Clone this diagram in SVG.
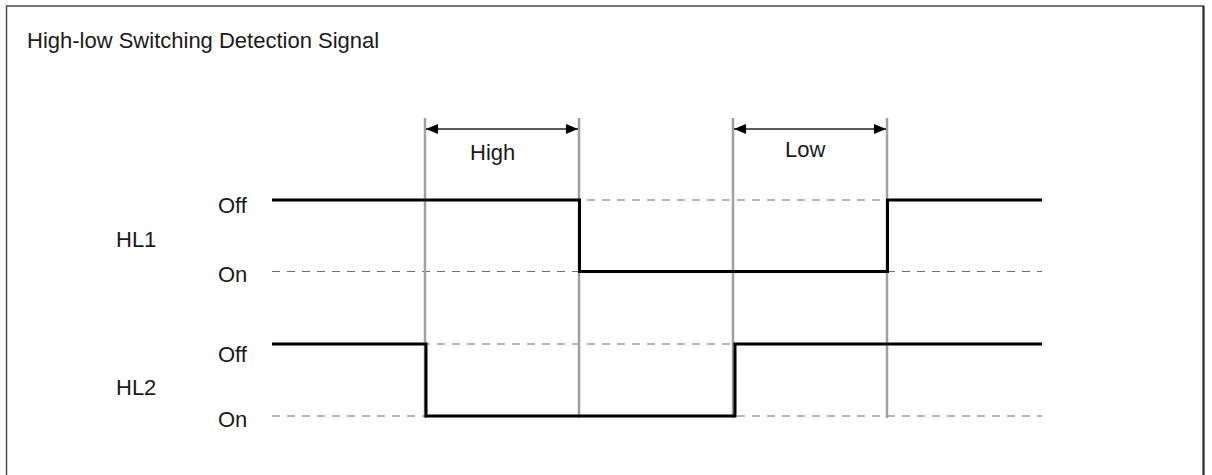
<svg xmlns="http://www.w3.org/2000/svg" width="1212" height="475" viewBox="0 0 1212 475">
<style>
text{font-family:"Liberation Sans",Arial,sans-serif;font-size:22px;fill:#1a1a1a}
.dash{stroke:#6e6e6e;stroke-width:1.2;stroke-dasharray:8 7;fill:none}
.guide{stroke:#a0a0a0;stroke-width:2.5;fill:none}
.sig{stroke:#000;stroke-width:3;fill:none;stroke-linejoin:miter}
.dim{stroke:#222;stroke-width:1.5;fill:none}
</style>
<defs>
<marker id="ah" viewBox="0 0 12 10" refX="12" refY="5" markerWidth="12" markerHeight="10" markerUnits="userSpaceOnUse" orient="auto-start-reverse">
<path d="M0,0 L12,5 L0,10 Z" fill="#000"/>
</marker>
</defs>
<rect width="1212" height="475" fill="#fff"/>
<path d="M6.5,475 V6 H1203.5 V475" fill="none" stroke="#4a4a4a" stroke-width="1.5"/>
<path d="M1203.5,6 V475" fill="none" stroke="#2a2a2a" stroke-width="2"/>
<g id="title"><text x="27" y="48">High-low Switching Detection Signal</text></g>
<g id="connectors">
<path class="dash" d="M272,200 H1042 M272,271.5 H1042 M272,344 H1042 M272,416 H1042"/>
<path class="guide" d="M425,118 V418 M579,118 V418 M733,118 V418 M887,118 V418"/>
<line class="dim" x1="426" y1="129" x2="578" y2="129" marker-start="url(#ah)" marker-end="url(#ah)"/>
<line class="dim" x1="734" y1="129" x2="886" y2="129" marker-start="url(#ah)" marker-end="url(#ah)"/>
</g>
<g id="HL1">
<text x="116" y="247">HL1</text>
<text x="218" y="213">Off</text>
<text x="218" y="282">On</text>
<path class="sig" d="M272,200 H579.5 V271.5 H887.5 V200 H1042"/>
</g>
<g id="HL2">
<text x="116" y="395">HL2</text>
<text x="218" y="362">Off</text>
<text x="218" y="427">On</text>
<path class="sig" d="M272,344 H426 V416 H735 V344 H1042"/>
</g>
<g id="labels">
<text x="470" y="160">High</text>
<text x="785" y="157">Low</text>
</g>
</svg>
